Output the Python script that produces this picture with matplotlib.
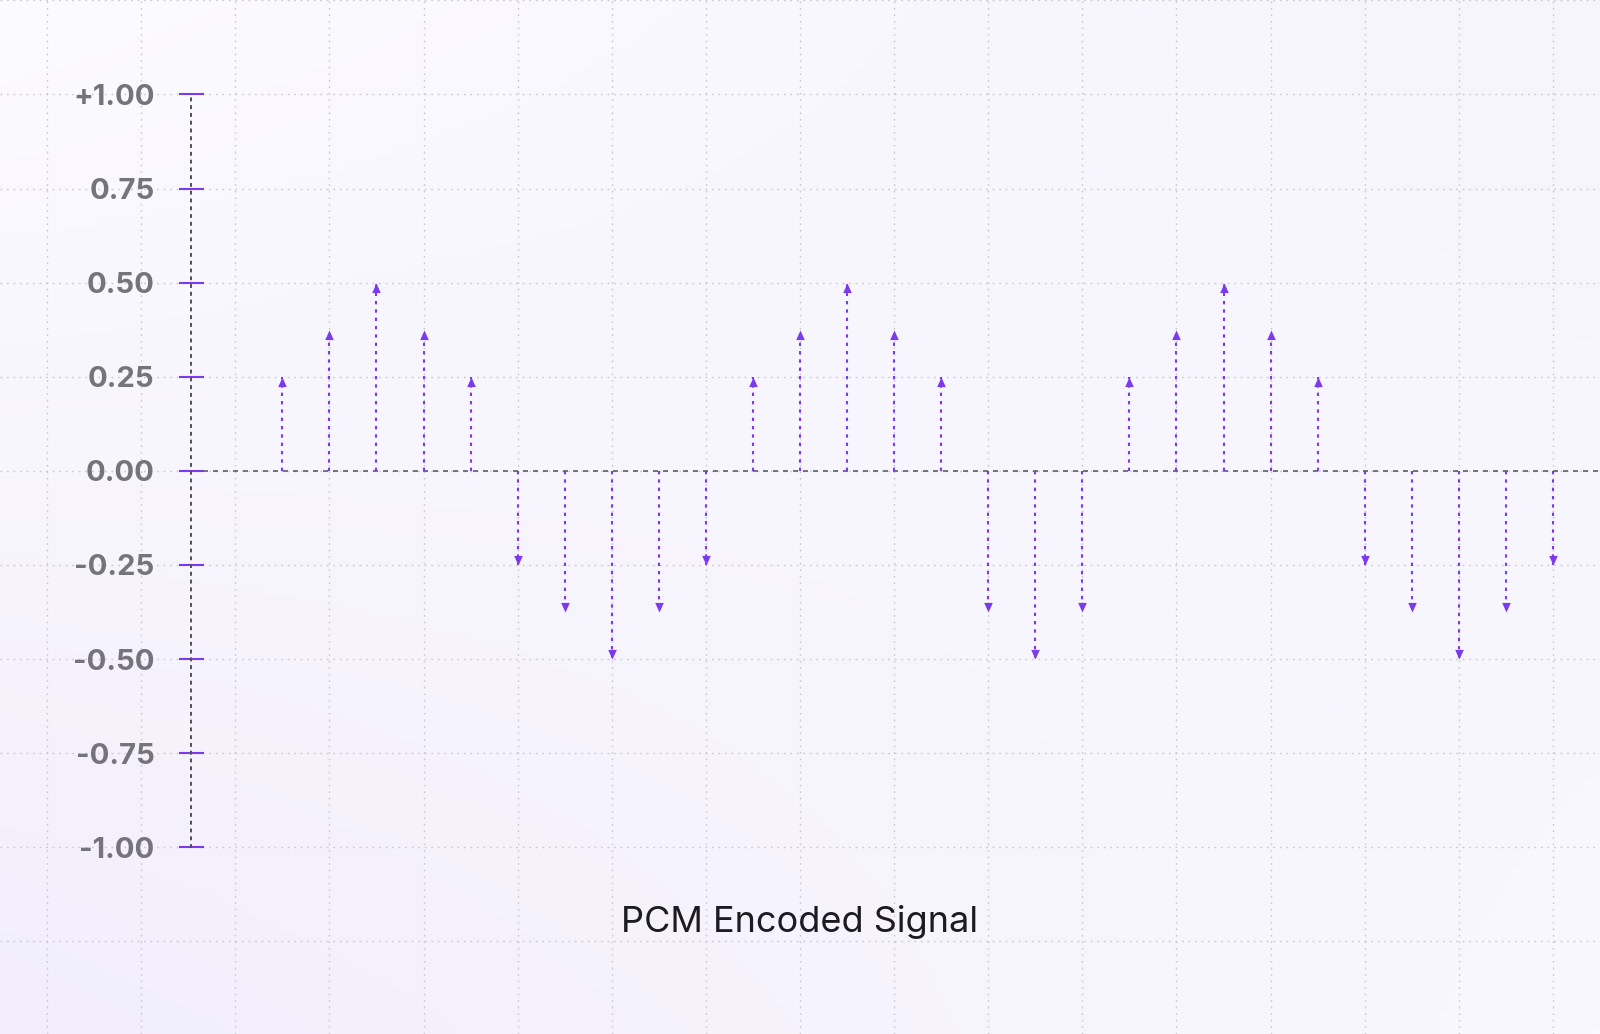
import numpy as np
import matplotlib.pyplot as plt
from matplotlib.path import Path
from matplotlib.colors import to_rgb

# sample values of the quantised signal (one per sample slot)
samples = [0.25, 0.375, 0.5, 0.375, 0.25,
           -0.25, -0.375, -0.5, -0.375, -0.25,
           0.25, 0.375, 0.5, 0.375, 0.25,
           -0.375, -0.5, -0.375,
           0.25, 0.375, 0.5, 0.375, 0.25,
           -0.25, -0.375, -0.5, -0.375, -0.25]
y_ticks = [1.0, 0.75, 0.5, 0.25, 0.0, -0.25, -0.5, -0.75, -1.0]
y_tick_labels = ['+1.00', '0.75', '0.50', '0.25', '0.00', '-0.25', '-0.50', '-0.75', '-1.00']
title = 'PCM Encoded Signal'

purple = '#7c3aed'
grid_color = '#c8c7ce'

plt.rcParams['font.family'] = ['Inter', 'DejaVu Sans']

fig = plt.figure(figsize=(16, 10.34), dpi=100)

# soft lavender background
bg = fig.add_axes([0, 0, 1, 1], zorder=0)
corners = np.array([[to_rgb('#fcfbff'), to_rgb('#f6f4fd')],
                    [to_rgb('#f2eefc'), to_rgb('#f9f8fe')]])
t = np.linspace(0, 1, 200)
u, v = np.meshgrid(t, t)
img = (corners[0, 0] * ((1 - u) * (1 - v))[..., None] + corners[0, 1] * (u * (1 - v))[..., None]
       + corners[1, 0] * ((1 - u) * v)[..., None] + corners[1, 1] * (u * v)[..., None])
bg.imshow(img, aspect='auto', extent=[0, 1, 0, 1])
bg.axis('off')

ax = fig.add_axes([0, 0, 1, 1], zorder=1)
ax.patch.set_alpha(0)
ax.set_xlim(-6.0, 28.0)
ax.set_ylim(-1.496, 1.251)

# background grid (square cells, every two sample slots)
for gx in np.arange(-5, 29, 2):
    ax.axvline(gx, color=grid_color, lw=1, ls=(0, (1.2, 3.5)), zorder=1)
for gy in np.arange(-1.25, 1.3, 0.25):
    ax.axhline(gy, color=grid_color, lw=1, ls=(0, (1.2, 3.5)), zorder=1)

# zero line
ax.plot([-1.68, 28], [0, 0], color='#5d5d66', lw=1.2, ls=(0, (3, 3)), zorder=2)

# left axis as a spine
for s in ['top', 'right', 'bottom']:
    ax.spines[s].set_visible(False)
ax.spines['left'].set_position(('data', -1.95))
ax.spines['left'].set_bounds(-1, 1)
ax.spines['left'].set_linestyle((0, (1, 3)))
ax.spines['left'].set_color('#4f4f57')
ax.spines['left'].set_linewidth(1.4)
ax.set_xticks([])
ax.set_yticks(y_ticks)
ax.set_yticklabels(y_tick_labels)
ax.tick_params(axis='y', direction='inout', length=18, width=1.5, color=purple,
               labelsize=21, labelcolor='#75747c', pad=17)
for lab in ax.get_yticklabels():
    lab.set_fontweight('bold')

# stems with arrowheads
x = np.arange(len(samples))
vals = np.array(samples)
ax.vlines(x, 0, vals, colors=purple, lw=1.5, linestyles=(0, (1.6, 2.4)), zorder=3)
up = Path([(-0.45, -1), (0.45, -1), (0, 0), (-0.45, -1)],
          [Path.MOVETO, Path.LINETO, Path.LINETO, Path.CLOSEPOLY])
down = Path([(-0.45, 1), (0.45, 1), (0, 0), (-0.45, 1)],
            [Path.MOVETO, Path.LINETO, Path.LINETO, Path.CLOSEPOLY])
pos = vals > 0
ax.scatter(x[pos], vals[pos], marker=up, s=190, color=purple, lw=0, zorder=4)
ax.scatter(x[~pos], vals[~pos], marker=down, s=190, color=purple, lw=0, zorder=4)

ax.text(11.0, -1.199, title, ha='center', va='center', fontsize=26,
        color='#1c1b22', zorder=5)

fig.savefig('out.png', dpi=100)
